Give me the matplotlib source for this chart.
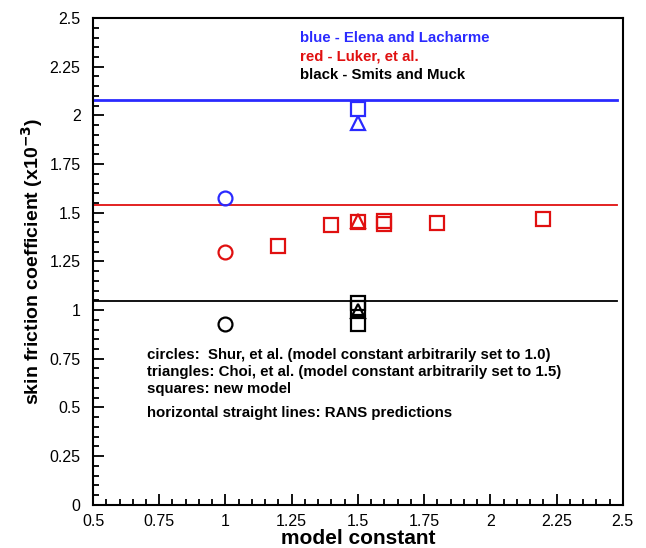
import matplotlib
matplotlib.use('Agg')
import matplotlib.pyplot as plt
from matplotlib.ticker import MultipleLocator

plt.rcParams['font.family'] = ['Liberation Sans', 'DejaVu Sans']

# RANS predictions (horizontal lines)
rans_blue = 2.08
rans_red = 1.54
rans_black = 1.045

# circles (Shur et al., constant set to 1.0)
circ_x = [1.0, 1.0, 1.0]
circ_y = [1.575, 1.30, 0.93]
circ_c = ['#2a2aff', '#e01010', 'black']

# triangles (Choi et al., constant set to 1.5)
tri_x = [1.5, 1.5, 1.5]
tri_y = [1.96, 1.455, 0.995]
tri_c = ['#2a2aff', '#e01010', 'black']

# squares: new model
blue_sq_x = [1.5]
blue_sq_y = [2.035]
red_sq_x = [1.2, 1.4, 1.5, 1.6, 1.6, 1.8, 2.2]
red_sq_y = [1.33, 1.435, 1.45, 1.455, 1.44, 1.445, 1.47]
black_sq_x = [1.5, 1.5, 1.5]
black_sq_y = [1.035, 1.01, 0.93]

fig = plt.figure(figsize=(6.46, 5.48), dpi=100)
ax = fig.add_axes([0.144, 0.079, 0.820, 0.888])

xl = [0.5, 2.48]
ax.plot(xl, [rans_blue] * 2, color='#2a2aff', lw=2)
ax.plot(xl, [rans_red] * 2, color='#e01010', lw=1.3)
ax.plot(xl, [rans_black] * 2, color='black', lw=1.3)

ms = 10
for x, y, c in zip(circ_x, circ_y, circ_c):
    ax.plot(x, y, 'o', mfc='none', mec=c, mew=1.6, ms=ms)
for x, y, c in zip(tri_x, tri_y, tri_c):
    ax.plot(x, y, '^', mfc='none', mec=c, mew=1.6, ms=ms)
ax.plot(blue_sq_x, blue_sq_y, 's', mfc='none', mec='#2a2aff', mew=1.6, ms=ms)
ax.plot(red_sq_x, red_sq_y, 's', mfc='none', mec='#e01010', mew=1.6, ms=ms)
ax.plot(black_sq_x, black_sq_y, 's', mfc='none', mec='black', mew=1.6, ms=ms)

ax.set_xlim(0.5, 2.5)
ax.set_ylim(0, 2.5)
ax.xaxis.set_major_locator(MultipleLocator(0.25))
ax.xaxis.set_minor_locator(MultipleLocator(0.05))
ax.yaxis.set_major_locator(MultipleLocator(0.25))
ax.yaxis.set_minor_locator(MultipleLocator(0.05))
ax.xaxis.set_major_formatter(plt.FuncFormatter(lambda v, p: f"{v:g}"))
ax.yaxis.set_major_formatter(plt.FuncFormatter(lambda v, p: f"{v:g}"))
ax.tick_params(which='both', direction='in', top=False, right=False, labelsize=11.5, width=1.3)
ax.tick_params(which='major', length=8)
ax.tick_params(which='minor', length=4)
ax.tick_params(axis='x', pad=7)
ax.tick_params(axis='y', pad=9)
for s in ax.spines.values():
    s.set_linewidth(1.5)

ax.set_xlabel('model constant', fontsize=15, fontweight='bold', labelpad=0)
ax.set_ylabel(r'skin friction coefficient (x10$^{\mathbf{-3}}$)', fontsize=14, fontweight='bold', labelpad=3)

ax.text(0.39, 0.959, 'blue - Elena and Lacharme', color='#2a2aff', transform=ax.transAxes,
        fontsize=10.8, fontweight='bold', va='center')
ax.text(0.39, 0.921, 'red - Luker, et al.', color='#e01010', transform=ax.transAxes,
        fontsize=10.8, fontweight='bold', va='center')
ax.text(0.39, 0.884, 'black - Smits and Muck', color='black', transform=ax.transAxes,
        fontsize=10.8, fontweight='bold', va='center')

notes = ['circles:  Shur, et al. (model constant arbitrarily set to 1.0)',
         'triangles: Choi, et al. (model constant arbitrarily set to 1.5)',
         'squares: new model']
for i, t in enumerate(notes):
    ax.text(0.102, 0.308 - i * 0.035, t, transform=ax.transAxes,
            fontsize=10.8, fontweight='semibold', va='center', linespacing=1)
ax.text(0.102, 0.188, 'horizontal straight lines: RANS predictions', transform=ax.transAxes,
        fontsize=10.8, fontweight='semibold', va='center')

plt.savefig('out.png', dpi=100)
